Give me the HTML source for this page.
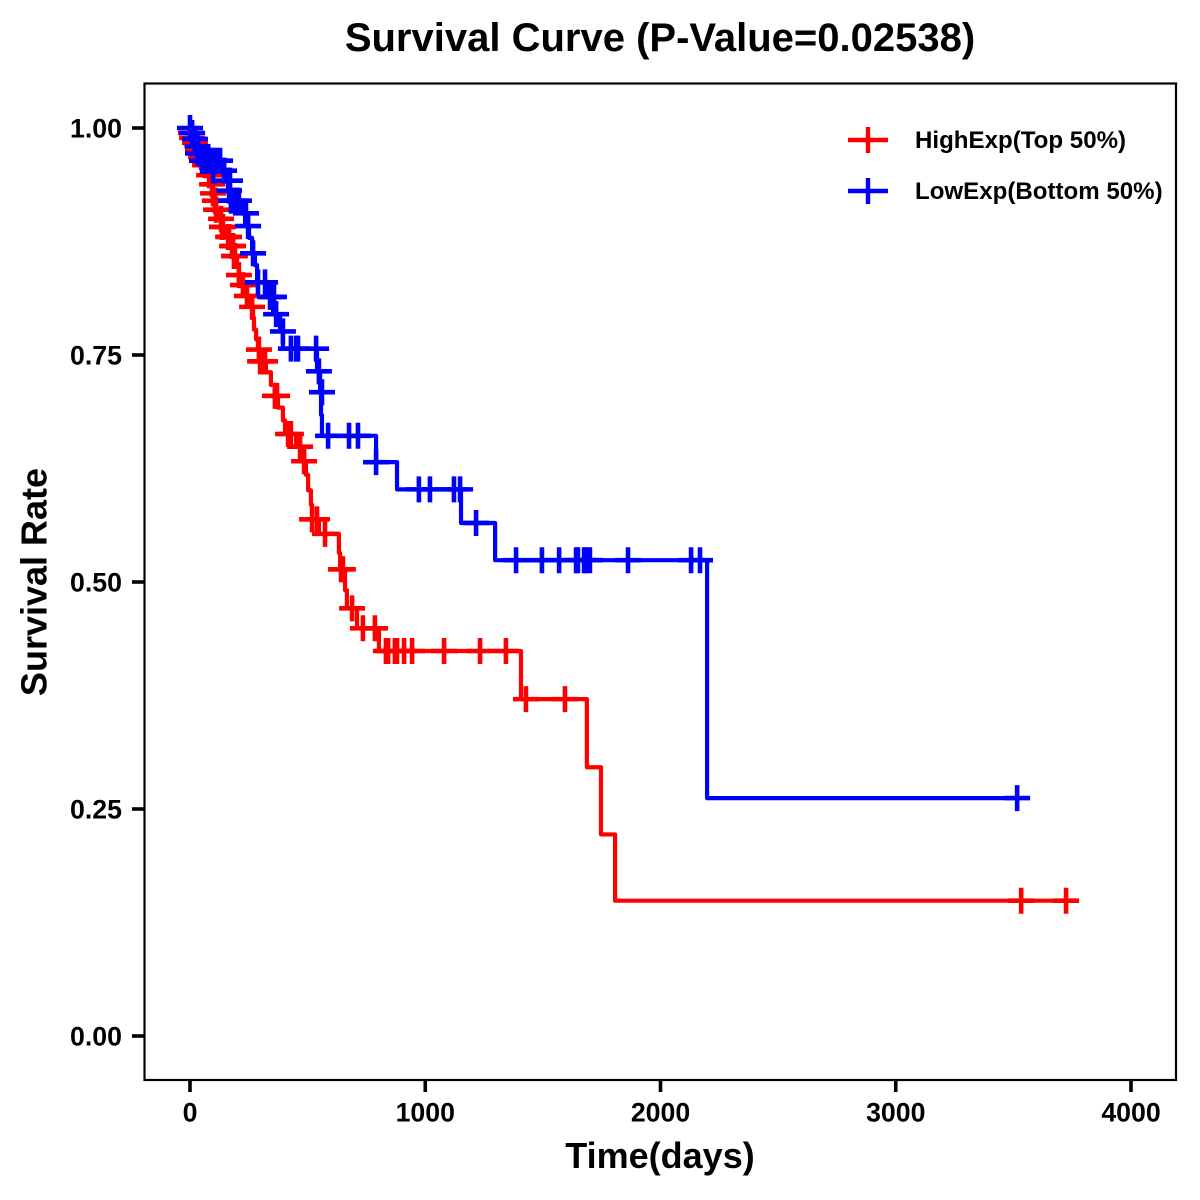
<!DOCTYPE html>
<html lang="en">
<head>
<meta charset="utf-8">
<title>Survival Curve</title>
<style>
  html, body { margin: 0; padding: 0; background: #fff; }
  svg { display: block; }
  text { font-family: "Liberation Sans", Arial, sans-serif; font-weight: bold; fill: #000; }
</style>
</head>
<body>
<svg id="chart" xmlns="http://www.w3.org/2000/svg" width="1200" height="1200" viewBox="0 0 1200 1200">
  <rect x="0" y="0" width="1200" height="1200" fill="#fff"/>
  <text x="660" y="51" font-size="40" text-anchor="middle">Survival Curve (P-Value=0.02538)</text>
  <text x="660" y="1168" font-size="36" text-anchor="middle">Time(days)</text>
  <text transform="translate(46.5 582) rotate(-90)" font-size="36" text-anchor="middle">Survival Rate</text>
  <g id="ticks"></g>
  <g id="series-high"></g>
  <g id="series-low"></g>
  <rect x="144.5" y="83.5" width="1031.5" height="996.5" fill="none" stroke="#000" stroke-width="2.2"/>
  <g>
    <g>
      <path d="M848 140H888M868 127V153" stroke="#f00" stroke-width="4.4" fill="none"/>
      <text x="915" y="148" font-size="24.1">HighExp(Top 50%)</text>
    </g>
    <g>
      <path d="M848 191H888M868 178V204" stroke="#00f" stroke-width="4.4" fill="none"/>
      <text x="915" y="199" font-size="24.1">LowExp(Bottom 50%)</text>
    </g>
  </g>
</svg>
<script>
const xTickValues = [0, 1000, 2000, 3000, 4000];
const xTickLabels = ["0", "1000", "2000", "3000", "4000"];
const yTickValues = [0, 0.25, 0.5, 0.75, 1];
const yTickLabels = ["0.00", "0.25", "0.50", "0.75", "1.00"];

const highTime = [0, 2, 9, 21, 34, 47, 64, 81, 89, 98, 102, 111, 128, 136, 157, 174, 183, 200, 208, 221, 238, 259, 268, 272, 281, 289, 293, 323, 344, 361, 374, 395, 404, 451, 476, 493, 502, 514, 519, 548, 633, 638, 659, 667, 710, 803, 1407, 1687, 1747, 1807];
const highSurv = [1, 0.9945, 0.989, 0.9835, 0.976, 0.968, 0.959, 0.948, 0.938, 0.928, 0.92, 0.91, 0.9, 0.891, 0.88, 0.87, 0.859, 0.849, 0.838, 0.827, 0.815, 0.803, 0.791, 0.778, 0.767, 0.756, 0.743, 0.731, 0.717, 0.705, 0.692, 0.678, 0.663, 0.649, 0.633, 0.618, 0.601, 0.585, 0.569, 0.553, 0.532, 0.514, 0.491, 0.471, 0.449, 0.424, 0.371, 0.296, 0.222, 0.149];
const highCensorTime = [4, 9, 21, 34, 47, 64, 81, 94, 98, 106, 111, 132, 136, 140, 162, 166, 179, 183, 187, 191, 208, 225, 242, 264, 293, 298, 306, 319, 361, 370, 417, 429, 468, 485, 519, 540, 574, 642, 650, 689, 735, 786, 833, 842, 871, 880, 910, 944, 1080, 1233, 1343, 1428, 1594, 3533, 3724];
const highCensorSurv = [0.9945, 0.989, 0.9835, 0.976, 0.968, 0.959, 0.948, 0.938, 0.928, 0.92, 0.91, 0.9, 0.891, 0.891, 0.88, 0.88, 0.87, 0.87, 0.859, 0.859, 0.838, 0.827, 0.815, 0.803, 0.756, 0.743, 0.743, 0.743, 0.705, 0.705, 0.663, 0.663, 0.649, 0.633, 0.569, 0.569, 0.553, 0.514, 0.514, 0.471, 0.449, 0.449, 0.424, 0.424, 0.424, 0.424, 0.424, 0.424, 0.424, 0.424, 0.424, 0.371, 0.371, 0.149, 0.149];

const lowTime = [0, 4, 17, 30, 34, 47, 132, 157, 166, 170, 225, 234, 251, 264, 276, 285, 332, 353, 383, 395, 540, 553, 557, 561, 791, 880, 1152, 1297, 2198];
const lowSurv = [1, 0.9945, 0.988, 0.98, 0.972, 0.964, 0.953, 0.942, 0.931, 0.92, 0.906, 0.892, 0.879, 0.862, 0.849, 0.83, 0.814, 0.795, 0.776, 0.757, 0.732, 0.709, 0.684, 0.661, 0.632, 0.602, 0.565, 0.524, 0.262];
const lowCensorTime = [0, 9, 21, 32, 34, 51, 64, 77, 90, 102, 115, 128, 98, 145, 162, 170, 166, 174, 185, 195, 208, 238, 247, 268, 289, 319, 340, 349, 357, 366, 395, 429, 451, 459, 536, 548, 561, 587, 676, 714, 791, 973, 1020, 1122, 1148, 1216, 1386, 1496, 1569, 1641, 1649, 1675, 1683, 1700, 1862, 2130, 2168, 3516];
const lowCensorSurv = [1, 0.9945, 0.988, 0.98, 0.972, 0.964, 0.964, 0.964, 0.964, 0.964, 0.964, 0.964, 0.953, 0.953, 0.942, 0.942, 0.931, 0.92, 0.92, 0.92, 0.92, 0.906, 0.892, 0.862, 0.83, 0.83, 0.814, 0.814, 0.814, 0.795, 0.776, 0.757, 0.757, 0.757, 0.757, 0.732, 0.709, 0.661, 0.661, 0.661, 0.632, 0.602, 0.602, 0.602, 0.602, 0.565, 0.524, 0.524, 0.524, 0.524, 0.524, 0.524, 0.524, 0.524, 0.524, 0.524, 0.524, 0.262];

const SVG_NS = "http://www.w3.org/2000/svg";
function xScale(t) { return 190 + t * 0.23525; }
function yScale(s) { return 1036 - s * 908; }

function stepPath(times, survs) {
  let d = "M" + xScale(times[0]).toFixed(2) + " " + yScale(survs[0]).toFixed(2);
  for (let i = 1; i < times.length; i++) {
    d += "H" + xScale(times[i]).toFixed(2) + "V" + yScale(survs[i]).toFixed(2);
  }
  return d;
}

function drawSeries(groupId, color, times, survs, censorTimes, censorSurvs) {
  const group = document.getElementById(groupId);
  const lastCensor = censorTimes[censorTimes.length - 1];
  const line = document.createElementNS(SVG_NS, "path");
  
  
  line.setAttribute("d", stepPath(times, survs) + "H" + xScale(lastCensor).toFixed(2));
  line.setAttribute("fill", "none");
  line.setAttribute("stroke", color);
  line.setAttribute("stroke-width", "4.2");
  line.setAttribute("stroke-linejoin", "round");
  group.appendChild(line);
  for (let i = 0; i < censorTimes.length; i++) {
    const cx = xScale(censorTimes[i]);
    const cy = yScale(censorSurvs[i]);
    const mark = document.createElementNS(SVG_NS, "path");
    
    
    mark.setAttribute("d", "M" + (cx - 13).toFixed(2) + " " + cy.toFixed(2) + "H" + (cx + 13).toFixed(2) + "M" + cx.toFixed(2) + " " + (cy - 13).toFixed(2) + "V" + (cy + 13).toFixed(2));
    mark.setAttribute("fill", "none");
    mark.setAttribute("stroke", color);
    mark.setAttribute("stroke-width", "4.6");
    group.appendChild(mark);
  }
}

function drawAxes() {
  const group = document.getElementById("ticks");
  xTickValues.forEach(function (v, i) {
    const px = xScale(v);
    const tick = document.createElementNS(SVG_NS, "line");
    
    
    tick.setAttribute("x1", px);
    tick.setAttribute("x2", px);
    tick.setAttribute("y1", 1080);
    tick.setAttribute("y2", 1092);
    tick.setAttribute("stroke", "#000");
    tick.setAttribute("stroke-width", "3.6");
    group.appendChild(tick);
    const label = document.createElementNS(SVG_NS, "text");
    
    
    label.setAttribute("x", px);
    label.setAttribute("y", 1121.5);
    label.setAttribute("font-size", "26.7");
    label.setAttribute("text-anchor", "middle");
    label.textContent = xTickLabels[i];
    group.appendChild(label);
  });
  yTickValues.forEach(function (v, i) {
    const py = yScale(v);
    const tick = document.createElementNS(SVG_NS, "line");
    
    
    tick.setAttribute("x1", 132);
    tick.setAttribute("x2", 144);
    tick.setAttribute("y1", py);
    tick.setAttribute("y2", py);
    tick.setAttribute("stroke", "#000");
    tick.setAttribute("stroke-width", "3.6");
    group.appendChild(tick);
    const label = document.createElementNS(SVG_NS, "text");
    
    
    label.setAttribute("x", 122);
    label.setAttribute("y", py + 9.5);
    label.setAttribute("font-size", "26.7");
    label.setAttribute("text-anchor", "end");
    label.textContent = yTickLabels[i];
    group.appendChild(label);
  });
}

drawAxes();
drawSeries("series-high", "#ff0000", highTime, highSurv, highCensorTime, highCensorSurv);
drawSeries("series-low", "#0000ff", lowTime, lowSurv, lowCensorTime, lowCensorSurv);
</script>
</body>
</html>
